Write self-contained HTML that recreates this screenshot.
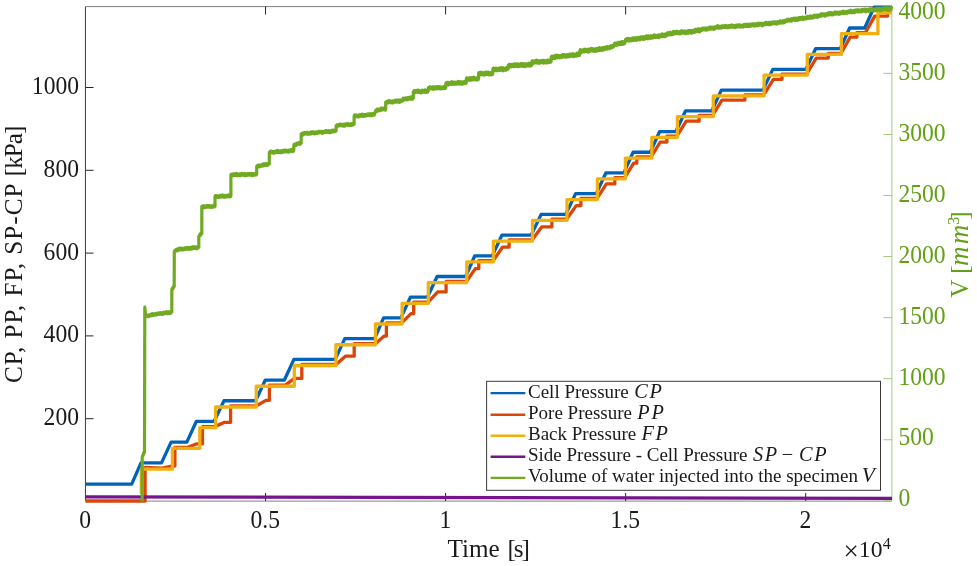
<!DOCTYPE html>
<html lang="en">
<head>
<meta charset="utf-8">
<title>Pressure and injected volume versus time</title>
<style>
html,body{margin:0;padding:0;background:#ffffff;}
body{width:977px;height:566px;overflow:hidden;}
svg{display:block;}
</style>
</head>
<body>
<svg width="977" height="566" viewBox="0 0 977 566">
<rect x="0" y="0" width="977" height="566" fill="#ffffff"/>
<defs><clipPath id="cp"><rect x="84.50" y="4.50" width="809.50" height="498.50"/></clipPath></defs>
<g stroke="#262626" stroke-width="1" fill="none" shape-rendering="auto">
<path d="M85.45,6.50 L85.45,501.00" stroke="#3c3c3c"/>
<path d="M85.50,6.60 L892.00,6.60" stroke="#808080"/>
<path d="M85.50,501.10 L892.00,501.10" stroke="#808080"/>
<path d="M265.55,501.00 L265.55,493.00"/>
<path d="M265.55,6.50 L265.55,14.50"/>
<path d="M445.60,501.00 L445.60,493.00"/>
<path d="M445.60,6.50 L445.60,14.50"/>
<path d="M625.65,501.00 L625.65,493.00"/>
<path d="M625.65,6.50 L625.65,14.50"/>
<path d="M805.70,501.00 L805.70,493.00"/>
<path d="M805.70,6.50 L805.70,14.50"/>
<path d="M85.50,418.70 L93.50,418.70"/>
<path d="M85.50,335.90 L93.50,335.90"/>
<path d="M85.50,253.10 L93.50,253.10"/>
<path d="M85.50,170.30 L93.50,170.30"/>
<path d="M85.50,87.50 L93.50,87.50"/>
</g>
<g stroke="#a3cb78" stroke-width="1" fill="none">
<path d="M891.90,6.50 L891.90,501.00"/>
<path d="M892.00,500.80 L883.40,500.80"/>
<path d="M892.00,439.74 L883.40,439.74"/>
<path d="M892.00,378.68 L883.40,378.68"/>
<path d="M892.00,317.62 L883.40,317.62"/>
<path d="M892.00,256.56 L883.40,256.56"/>
<path d="M892.00,195.50 L883.40,195.50"/>
<path d="M892.00,134.44 L883.40,134.44"/>
<path d="M892.00,73.38 L883.40,73.38"/>
<path d="M892.00,12.32 L883.40,12.32"/>
</g>
<g clip-path="url(#cp)" fill="none" stroke-width="3.3" stroke-linejoin="round" stroke-linecap="butt">
<path d="M85.50,484.20 L131.70,484.20 L141.00,462.89 L161.50,462.89 L171.10,442.18 L186.80,442.18 L196.30,421.47 L214.00,421.47 L224.00,400.76 L255.60,400.76 L265.30,380.05 L284.40,380.05 L293.90,359.34 L335.20,359.34 L344.80,338.63 L374.60,338.63 L383.60,317.92 L400.90,317.92 L410.40,297.21 L427.40,297.21 L437.10,276.50 L465.60,276.50 L474.80,255.79 L492.30,255.79 L501.90,235.08 L531.30,235.08 L541.10,214.37 L565.80,214.37 L575.60,193.66 L596.30,193.66 L605.80,172.95 L623.90,172.95 L633.10,152.24 L650.30,152.24 L659.60,131.53 L675.90,131.53 L685.60,110.82 L711.80,110.82 L721.30,90.11 L762.90,90.11 L772.80,69.40 L805.80,69.40 L815.60,48.69 L840.30,48.69 L849.60,27.98 L864.70,27.98 L874.10,7.27 L892.00,7.27" stroke="#0062B8"/>
<path d="M85.50,501.00 L145.10,501.00 L145.10,467.50 L162.30,468.10 L171.70,466.00 L174.90,466.00 L174.90,447.36 L187.60,447.36 L196.90,443.80 L202.50,443.80 L202.50,426.62 L214.80,426.62 L224.60,422.30 L230.60,422.30 L230.60,405.88 L256.40,405.88 L265.90,400.30 L269.40,400.30 L269.40,385.14 L285.20,385.14 L294.50,378.40 L301.80,378.40 L301.80,364.40 L336.00,364.40 L345.40,356.20 L354.20,356.20 L354.20,343.66 L375.40,343.66 L384.20,336.10 L386.40,336.10 L386.40,322.92 L401.70,322.92 L411.00,313.60 L413.70,313.60 L413.70,302.18 L428.20,302.18 L437.70,291.90 L446.10,291.90 L446.10,281.44 L466.40,281.44 L475.40,268.60 L478.80,268.60 L478.80,260.70 L493.10,260.70 L502.50,247.20 L509.10,247.20 L509.10,239.96 L532.10,239.96 L541.70,226.90 L551.90,226.90 L551.90,219.22 L566.60,219.22 L576.20,205.60 L580.90,205.60 L580.90,198.48 L597.10,198.48 L606.40,183.90 L614.80,183.90 L614.80,177.74 L624.70,177.74 L633.70,163.20 L636.80,163.20 L636.80,157.00 L651.10,157.00 L660.20,142.10 L666.90,142.10 L666.90,136.26 L676.70,136.26 L686.20,121.20 L699.10,121.20 L699.10,115.52 L712.60,115.52 L721.90,100.10 L744.90,100.10 L744.90,94.78 L763.70,94.78 L773.40,79.30 L782.00,79.30 L782.00,74.04 L806.60,74.04 L816.20,58.10 L828.30,58.10 L828.30,53.30 L841.10,53.30 L850.20,37.10 L856.90,37.10 L856.90,32.56 L865.50,32.56 L874.70,16.10 L887.60,16.10 L887.60,11.82 L892.00,11.82" stroke="#DC4508"/>
<path d="M141.30,494.00 L141.30,469.20 L172.40,469.20 L172.40,448.46 L199.80,448.46 L199.80,427.72 L215.60,427.72 L215.60,406.98 L256.30,406.98 L256.30,386.24 L294.30,386.24 L294.30,365.50 L335.90,365.50 L335.90,344.76 L375.50,344.76 L375.50,324.02 L402.10,324.02 L402.10,303.28 L428.30,303.28 L428.30,282.54 L466.80,282.54 L466.80,261.80 L493.40,261.80 L493.40,241.06 L532.50,241.06 L532.50,220.32 L567.00,220.32 L567.00,199.58 L597.40,199.58 L597.40,178.84 L625.40,178.84 L625.40,158.10 L651.80,158.10 L651.80,137.36 L677.40,137.36 L677.40,116.62 L713.30,116.62 L713.30,95.88 L764.10,95.88 L764.10,75.14 L807.30,75.14 L807.30,54.40 L841.40,54.40 L841.40,33.66 L877.90,33.66 L877.90,12.92 L892.00,12.92" stroke="#F0B010"/>
<path d="M85.50,496.80 L892.00,498.40" stroke="#75148C"/>
<path d="M142.20,501.50 L142.20,457.00 L142.66,455.67 L143.12,455.40 L143.58,452.98 L144.04,453.42 L144.50,452.00 L144.80,307.20 L145.70,315.80 L146.18,315.00 L146.66,316.17 L147.13,315.19 L147.61,316.64 L148.09,315.27 L148.57,316.68 L149.04,314.87 L149.52,315.99 L150.00,315.40 L150.45,314.73 L150.91,315.73 L151.36,314.15 L151.82,315.42 L152.27,313.64 L152.73,315.46 L153.18,313.92 L153.64,315.29 L154.09,313.88 L154.55,314.85 L155.00,314.20 L155.45,313.50 L155.91,315.18 L156.36,313.53 L156.82,314.68 L157.27,313.22 L157.73,314.23 L158.18,313.03 L158.64,314.44 L159.09,312.79 L159.55,314.25 L160.00,313.60 L160.45,312.74 L160.91,314.10 L161.36,313.19 L161.82,314.28 L162.27,312.87 L162.73,314.16 L163.18,312.40 L163.64,314.14 L164.09,312.59 L164.55,313.71 L165.00,313.00 L165.46,311.99 L165.92,313.30 L166.38,311.86 L166.85,313.64 L167.31,311.99 L167.77,313.59 L168.23,311.87 L168.69,313.16 L169.15,312.13 L169.62,313.54 L170.08,311.93 L170.54,313.25 L171.00,312.30 L171.80,312.10 L171.80,289.60 L172.28,288.40 L172.76,288.85 L173.24,286.83 L173.72,287.48 L174.20,286.40 L174.30,251.60 L174.85,250.47 L175.40,251.63 L175.95,249.65 L176.50,249.80 L177.00,250.45 L177.50,248.89 L178.00,250.60 L178.50,248.60 L179.00,249.81 L179.50,248.19 L180.00,249.20 L180.46,249.85 L180.92,248.24 L181.38,249.83 L181.83,248.26 L182.29,249.99 L182.75,248.42 L183.21,249.88 L183.67,248.50 L184.13,249.58 L184.59,248.00 L185.04,249.40 L185.50,247.81 L185.96,249.41 L186.42,247.86 L186.88,248.72 L187.34,247.52 L187.80,248.83 L188.25,247.80 L188.71,249.35 L189.17,247.62 L189.63,249.20 L190.09,247.67 L190.55,249.00 L191.00,247.79 L191.46,248.93 L191.92,247.19 L192.38,248.79 L192.84,246.86 L193.30,248.34 L193.76,246.86 L194.21,248.36 L194.67,247.05 L195.13,248.12 L195.59,246.81 L196.05,248.30 L196.51,247.04 L196.97,248.80 L197.42,247.02 L197.88,248.01 L198.34,246.80 L198.80,247.30 L198.80,236.20 L199.30,236.38 L199.80,234.43 L200.30,235.56 L200.80,233.11 L201.30,234.23 L201.80,233.40 L201.80,206.70 L202.26,206.21 L202.71,207.44 L203.17,205.90 L203.62,207.49 L204.08,205.87 L204.53,207.73 L204.99,206.05 L205.44,207.47 L205.90,206.09 L206.35,207.01 L206.81,205.55 L207.26,207.14 L207.72,205.71 L208.17,207.16 L208.63,205.67 L209.08,206.71 L209.54,205.79 L209.99,207.20 L210.45,206.22 L210.90,207.47 L211.36,205.80 L211.81,207.26 L212.27,205.89 L212.72,207.17 L213.18,205.74 L213.63,206.81 L214.09,205.48 L214.54,206.79 L215.00,206.30 L215.00,196.50 L215.45,195.62 L215.91,197.14 L216.36,195.74 L216.82,197.12 L217.27,195.91 L217.73,197.30 L218.18,195.92 L218.63,197.40 L219.09,195.84 L219.54,197.16 L220.00,195.47 L220.45,196.50 L220.91,195.54 L221.36,197.04 L221.81,195.39 L222.27,196.73 L222.72,194.97 L223.18,196.64 L223.63,195.68 L224.09,197.19 L224.54,195.72 L224.99,197.00 L225.45,195.51 L225.90,197.08 L226.36,195.45 L226.81,196.96 L227.27,195.36 L227.72,196.57 L228.17,195.15 L228.63,196.17 L229.08,194.79 L229.54,196.94 L229.99,195.11 L230.45,196.82 L230.90,195.90 L230.90,174.80 L231.35,174.26 L231.81,175.60 L232.26,174.49 L232.71,175.91 L233.16,174.18 L233.62,175.40 L234.07,173.82 L234.52,175.20 L234.97,174.16 L235.43,175.29 L235.88,173.65 L236.33,175.01 L236.78,173.48 L237.24,175.78 L237.69,173.94 L238.14,175.55 L238.59,174.27 L239.05,175.35 L239.50,174.25 L239.95,175.42 L240.41,173.88 L240.86,175.73 L241.31,173.68 L241.76,175.05 L242.22,173.46 L242.67,174.88 L243.12,173.99 L243.57,175.37 L244.03,173.53 L244.48,175.29 L244.93,173.58 L245.38,175.54 L245.84,174.35 L246.29,175.45 L246.74,174.08 L247.19,175.31 L247.65,173.56 L248.10,175.22 L248.55,173.51 L249.01,175.22 L249.46,173.59 L249.91,174.66 L250.36,173.53 L250.82,174.79 L251.27,173.64 L251.72,175.69 L252.17,173.85 L252.63,175.27 L253.08,173.62 L253.53,175.26 L253.98,174.15 L254.44,175.20 L254.89,173.61 L255.34,174.81 L255.79,173.08 L256.25,174.91 L256.70,174.30 L256.70,166.30 L257.15,165.60 L257.60,166.62 L258.05,165.17 L258.50,166.73 L258.95,165.13 L259.40,166.88 L259.85,165.26 L260.30,166.54 L260.75,165.14 L261.20,166.09 L261.65,164.72 L262.10,165.91 L262.55,164.48 L263.00,166.05 L263.45,163.90 L263.90,165.18 L264.35,163.88 L264.80,165.48 L265.25,164.30 L265.70,165.50 L266.15,163.70 L266.60,165.39 L267.05,163.74 L267.50,165.20 L267.95,163.75 L268.40,164.71 L268.85,163.47 L269.30,163.90 L269.30,152.40 L269.75,153.00 L270.21,151.48 L270.66,153.05 L271.11,151.18 L271.57,152.67 L272.02,151.50 L272.48,152.77 L272.93,151.59 L273.38,153.19 L273.84,151.66 L274.29,153.18 L274.74,151.32 L275.20,152.53 L275.65,151.27 L276.11,152.60 L276.56,151.19 L277.01,152.30 L277.47,150.29 L277.92,152.25 L278.37,150.83 L278.83,152.47 L279.28,151.03 L279.74,152.19 L280.19,151.02 L280.64,152.50 L281.10,150.94 L281.55,152.71 L282.00,150.75 L282.46,152.31 L282.91,150.51 L283.36,151.55 L283.82,150.40 L284.27,152.01 L284.73,150.24 L285.18,151.68 L285.63,150.05 L286.09,151.65 L286.54,150.70 L286.99,151.93 L287.45,150.76 L287.90,151.81 L288.36,150.13 L288.81,152.07 L289.26,150.28 L289.72,151.69 L290.17,150.04 L290.62,151.09 L291.08,149.75 L291.53,151.09 L291.99,149.65 L292.44,151.58 L292.89,149.87 L293.35,151.34 L293.80,150.50 L293.80,144.90 L294.26,144.28 L294.73,145.59 L295.19,144.27 L295.65,145.52 L296.11,143.64 L296.57,144.96 L297.04,143.19 L297.50,144.44 L297.96,143.21 L298.43,144.19 L298.89,142.69 L299.35,143.91 L299.81,142.51 L300.27,144.28 L300.74,142.76 L301.20,143.10 L301.20,133.80 L301.65,134.62 L302.11,133.33 L302.56,134.51 L303.01,132.95 L303.47,134.91 L303.92,132.93 L304.37,134.01 L304.83,132.50 L305.28,133.81 L305.73,132.81 L306.19,133.95 L306.64,132.50 L307.09,134.15 L307.55,132.32 L308.00,134.15 L308.45,132.88 L308.91,134.16 L309.36,132.85 L309.81,134.01 L310.26,132.41 L310.72,133.59 L311.17,131.94 L311.62,133.76 L312.08,132.25 L312.53,133.29 L312.98,131.78 L313.44,133.24 L313.89,132.22 L314.34,133.94 L314.80,132.15 L315.25,133.66 L315.70,132.04 L316.16,133.43 L316.61,132.24 L317.06,133.41 L317.52,131.92 L317.97,133.11 L318.42,131.31 L318.88,132.79 L319.33,131.42 L319.78,132.79 L320.24,131.78 L320.69,132.66 L321.14,131.32 L321.60,132.85 L322.05,131.47 L322.50,133.34 L322.96,131.62 L323.41,132.69 L323.86,131.43 L324.32,132.48 L324.77,131.34 L325.22,132.49 L325.68,130.72 L326.13,132.44 L326.58,130.76 L327.04,132.07 L327.49,130.80 L327.94,132.24 L328.39,131.14 L328.85,132.52 L329.30,130.71 L329.75,132.52 L330.21,131.00 L330.66,132.55 L331.11,131.00 L331.57,131.92 L332.02,130.43 L332.47,131.93 L332.93,130.22 L333.38,131.98 L333.83,130.20 L334.29,131.62 L334.74,130.45 L335.19,131.51 L335.65,130.57 L336.10,131.00 L336.10,125.50 L336.55,126.67 L337.00,124.79 L337.45,126.23 L337.90,124.86 L338.35,126.12 L338.80,124.63 L339.25,125.87 L339.70,124.43 L340.15,125.64 L340.60,123.95 L341.05,125.68 L341.50,124.47 L341.95,125.90 L342.40,124.60 L342.85,125.64 L343.30,124.20 L343.75,126.08 L344.20,124.56 L344.65,126.15 L345.10,124.16 L345.55,125.34 L346.00,124.15 L346.45,125.15 L346.90,123.85 L347.35,125.30 L347.80,123.74 L348.25,125.29 L348.70,123.68 L349.15,125.09 L349.60,124.24 L350.05,125.49 L350.50,124.22 L350.95,125.13 L351.40,123.61 L351.85,125.32 L352.30,123.74 L352.75,125.09 L353.20,123.39 L353.65,124.54 L354.10,124.20 L354.10,116.20 L354.55,115.02 L355.01,117.06 L355.46,115.31 L355.91,116.80 L356.37,114.99 L356.82,116.53 L357.27,115.54 L357.73,116.90 L358.18,115.51 L358.63,116.89 L359.09,114.80 L359.54,116.54 L359.99,114.63 L360.45,116.14 L360.90,114.95 L361.35,116.07 L361.81,114.49 L362.26,115.98 L362.71,114.18 L363.17,116.52 L363.62,114.87 L364.07,116.30 L364.53,114.63 L364.98,115.92 L365.43,114.72 L365.89,116.07 L366.34,114.40 L366.79,115.80 L367.25,114.06 L367.70,115.47 L368.15,113.94 L368.61,115.24 L369.06,113.98 L369.51,115.69 L369.97,113.80 L370.42,115.34 L370.87,113.70 L371.33,115.71 L371.78,114.42 L372.23,115.48 L372.69,113.73 L373.14,114.99 L373.59,113.37 L374.05,115.23 L374.50,114.30 L374.98,112.53 L375.45,112.49 L375.92,110.01 L376.40,110.10 L376.86,110.81 L377.33,109.07 L377.79,111.21 L378.26,109.20 L378.72,110.64 L379.19,109.18 L379.65,110.52 L380.12,109.05 L380.58,110.51 L381.05,108.23 L381.51,109.77 L381.98,108.25 L382.44,109.88 L382.91,108.51 L383.38,109.59 L383.84,108.03 L384.31,109.63 L384.77,108.37 L385.24,110.17 L385.70,108.80 L385.70,102.30 L386.16,101.78 L386.62,102.94 L387.09,101.32 L387.55,102.79 L388.01,101.31 L388.47,102.98 L388.93,100.71 L389.39,102.23 L389.86,100.73 L390.32,102.45 L390.78,101.19 L391.24,102.71 L391.70,101.04 L392.16,102.77 L392.63,100.82 L393.09,102.91 L393.55,101.02 L394.01,102.28 L394.47,100.88 L394.94,102.14 L395.40,100.25 L395.86,102.05 L396.32,100.32 L396.78,102.13 L397.24,100.14 L397.71,101.47 L398.17,100.23 L398.63,102.10 L399.09,100.49 L399.55,102.37 L400.01,100.09 L400.48,101.91 L400.94,100.19 L401.40,100.80 L401.88,101.18 L402.35,99.56 L402.82,100.58 L403.30,98.22 L403.77,100.03 L404.25,98.39 L404.72,99.80 L405.20,98.60 L405.65,98.06 L406.10,99.61 L406.55,97.93 L407.00,99.91 L407.45,97.78 L407.90,99.52 L408.35,97.44 L408.80,98.87 L409.25,97.43 L409.70,99.15 L410.15,97.49 L410.60,99.10 L411.05,96.78 L411.50,99.18 L411.95,97.64 L412.40,99.24 L412.85,97.90 L413.30,98.30 L413.30,91.60 L413.76,92.39 L414.22,90.69 L414.67,92.89 L415.13,90.85 L415.59,92.53 L416.05,90.58 L416.50,91.74 L416.96,90.35 L417.42,91.96 L417.88,90.22 L418.33,92.47 L418.79,90.24 L419.25,92.36 L419.71,90.51 L420.16,92.46 L420.62,90.96 L421.08,92.92 L421.54,90.72 L421.99,92.32 L422.45,90.08 L422.91,92.17 L423.37,90.63 L423.82,92.10 L424.28,90.35 L424.74,91.70 L425.20,89.92 L425.65,92.26 L426.11,90.41 L426.57,92.28 L427.03,90.70 L427.48,92.22 L427.94,90.47 L428.40,90.80 L428.40,87.70 L428.86,89.31 L429.32,87.01 L429.77,88.81 L430.23,86.73 L430.69,88.50 L431.15,87.15 L431.61,88.49 L432.06,87.04 L432.52,89.10 L432.98,86.88 L433.44,88.91 L433.89,86.91 L434.35,89.15 L434.81,87.63 L435.27,88.87 L435.73,87.06 L436.18,88.55 L436.64,86.72 L437.10,88.84 L437.56,86.93 L438.02,88.26 L438.47,86.58 L438.93,88.42 L439.39,86.87 L439.85,88.93 L440.31,86.81 L440.76,88.99 L441.22,87.01 L441.68,88.76 L442.14,87.28 L442.59,88.61 L443.05,86.86 L443.51,88.65 L443.97,86.35 L444.43,88.41 L444.88,86.19 L445.34,88.38 L445.80,87.30 L445.80,83.20 L446.26,82.69 L446.71,84.27 L447.17,82.49 L447.62,84.64 L448.08,82.39 L448.53,85.02 L448.99,82.74 L449.44,84.04 L449.90,82.56 L450.36,84.24 L450.81,82.30 L451.27,84.41 L451.72,81.74 L452.18,83.63 L452.63,82.04 L453.09,84.12 L453.54,82.40 L454.00,84.16 L454.46,82.00 L454.91,84.30 L455.37,82.30 L455.82,84.21 L456.28,82.30 L456.73,84.12 L457.19,82.24 L457.64,83.74 L458.10,81.49 L458.56,83.85 L459.01,81.71 L459.47,84.02 L459.92,81.85 L460.38,83.38 L460.83,81.97 L461.29,84.04 L461.74,82.14 L462.20,84.09 L462.66,81.83 L463.11,83.84 L463.57,81.82 L464.02,83.65 L464.48,81.94 L464.93,83.26 L465.39,81.47 L465.84,83.46 L466.30,82.20 L466.30,78.70 L466.76,77.88 L467.21,79.95 L467.67,78.08 L468.12,79.67 L468.58,78.32 L469.03,80.13 L469.49,77.83 L469.94,80.43 L470.40,77.91 L470.86,80.13 L471.31,77.96 L471.77,79.27 L472.22,77.60 L472.68,79.87 L473.13,77.77 L473.59,79.56 L474.04,77.20 L474.50,79.72 L474.96,78.08 L475.41,79.85 L475.87,78.08 L476.32,79.93 L476.78,77.85 L477.23,79.89 L477.69,77.68 L478.14,79.75 L478.60,78.30 L478.60,73.40 L479.06,72.55 L479.52,74.01 L479.98,72.36 L480.45,74.85 L480.91,72.44 L481.37,74.68 L481.83,72.30 L482.29,74.61 L482.75,72.92 L483.21,74.62 L483.67,73.01 L484.14,75.12 L484.60,72.65 L485.06,74.95 L485.52,72.18 L485.98,74.18 L486.44,72.74 L486.90,74.32 L487.36,72.20 L487.83,74.32 L488.29,72.16 L488.75,74.83 L489.21,72.81 L489.67,74.78 L490.13,72.73 L490.59,74.22 L491.05,72.83 L491.52,74.77 L491.98,72.03 L492.44,74.66 L492.90,73.00 L492.90,69.30 L493.35,68.05 L493.81,70.29 L494.26,68.58 L494.71,70.48 L495.16,68.39 L495.62,70.74 L496.07,68.13 L496.52,70.64 L496.98,68.65 L497.43,70.52 L497.88,68.85 L498.34,70.49 L498.79,68.37 L499.24,70.17 L499.69,67.96 L500.15,70.41 L500.60,68.05 L501.05,69.70 L501.51,67.68 L501.96,69.73 L502.41,68.24 L502.86,70.82 L503.32,67.82 L503.77,70.29 L504.22,68.28 L504.68,70.24 L505.13,68.48 L505.58,70.16 L506.04,68.06 L506.49,70.06 L506.94,67.28 L507.39,69.57 L507.85,67.48 L508.30,68.50 L508.30,65.20 L508.75,66.25 L509.20,64.33 L509.66,66.33 L510.11,64.58 L510.56,66.72 L511.01,64.25 L511.46,66.84 L511.92,64.71 L512.37,66.44 L512.82,64.40 L513.27,66.25 L513.72,64.15 L514.17,66.70 L514.63,63.84 L515.08,66.02 L515.53,64.07 L515.98,66.12 L516.43,64.70 L516.89,66.36 L517.34,63.95 L517.79,66.72 L518.24,64.02 L518.69,66.41 L519.15,64.46 L519.60,66.26 L520.05,64.30 L520.50,66.09 L520.95,63.66 L521.41,65.93 L521.86,63.79 L522.31,66.30 L522.76,63.65 L523.21,65.50 L523.67,63.93 L524.12,66.29 L524.57,64.21 L525.02,66.58 L525.47,63.74 L525.92,66.23 L526.38,64.09 L526.83,65.87 L527.28,63.90 L527.73,65.60 L528.18,63.82 L528.64,65.91 L529.09,63.23 L529.54,65.57 L529.99,63.92 L530.44,66.01 L530.90,64.07 L531.35,65.69 L531.80,64.40 L531.80,61.70 L532.25,60.82 L532.70,63.75 L533.15,61.23 L533.60,63.19 L534.06,61.02 L534.51,62.46 L534.96,60.77 L535.41,62.92 L535.86,60.85 L536.31,62.85 L536.76,60.16 L537.21,62.95 L537.67,60.93 L538.12,63.09 L538.57,61.12 L539.02,62.88 L539.47,60.82 L539.92,63.13 L540.37,60.51 L540.82,62.94 L541.27,60.76 L541.73,62.57 L542.18,60.65 L542.63,62.06 L543.08,60.39 L543.53,63.11 L543.98,60.50 L544.43,62.76 L544.88,60.46 L545.33,62.73 L545.79,61.08 L546.24,62.82 L546.69,60.66 L547.14,62.99 L547.59,60.16 L548.04,62.57 L548.49,60.25 L548.94,62.32 L549.40,60.44 L549.85,62.49 L550.30,60.36 L550.75,62.15 L551.20,61.10 L551.20,57.00 L551.66,56.27 L552.11,58.41 L552.57,56.37 L553.02,58.36 L553.48,56.25 L553.93,58.06 L554.39,55.82 L554.84,58.51 L555.30,55.90 L555.76,57.86 L556.21,55.18 L556.67,57.21 L557.12,55.83 L557.58,57.78 L558.03,55.49 L558.49,57.62 L558.94,55.45 L559.40,57.80 L559.86,55.89 L560.31,57.59 L560.77,55.69 L561.22,57.39 L561.68,55.36 L562.13,57.27 L562.59,54.66 L563.04,57.16 L563.50,55.11 L563.96,56.56 L564.41,54.57 L564.87,56.65 L565.32,55.10 L565.78,57.28 L566.23,54.78 L566.69,56.99 L567.14,54.73 L567.60,56.75 L568.06,55.23 L568.51,56.75 L568.97,54.44 L569.42,56.51 L569.88,54.07 L570.33,56.53 L570.79,54.10 L571.24,56.11 L571.70,54.47 L572.16,56.08 L572.61,53.77 L573.07,56.49 L573.52,54.17 L573.98,56.66 L574.43,54.20 L574.89,55.79 L575.34,54.11 L575.80,55.98 L576.26,53.94 L576.71,56.08 L577.17,53.18 L577.62,55.71 L578.08,53.30 L578.53,55.24 L578.99,53.74 L579.44,55.44 L579.90,54.10 L579.90,50.70 L580.36,49.70 L580.81,52.52 L581.27,50.19 L581.73,52.44 L582.18,50.17 L582.64,51.70 L583.10,49.94 L583.55,51.56 L584.01,49.26 L584.47,51.85 L584.92,49.43 L585.38,51.70 L585.84,49.41 L586.30,51.28 L586.75,49.61 L587.21,51.62 L587.67,49.61 L588.12,52.24 L588.58,49.12 L589.04,51.23 L589.49,49.31 L589.95,51.30 L590.41,49.22 L590.86,50.93 L591.32,48.47 L591.78,50.94 L592.23,48.50 L592.69,50.93 L593.15,49.01 L593.60,51.07 L594.06,49.14 L594.52,50.84 L594.98,48.90 L595.43,51.31 L595.89,48.94 L596.35,51.13 L596.80,48.71 L597.26,50.12 L597.72,48.48 L598.17,50.74 L598.63,48.56 L599.09,50.50 L599.54,47.69 L600.00,49.10 L600.46,50.06 L600.92,48.49 L601.38,50.36 L601.84,48.38 L602.30,50.11 L602.76,47.50 L603.22,50.12 L603.68,47.80 L604.14,49.68 L604.60,47.32 L605.06,48.87 L605.52,47.04 L605.98,49.09 L606.44,46.89 L606.90,49.17 L607.36,46.68 L607.82,48.78 L608.28,46.78 L608.74,48.60 L609.20,46.78 L609.66,48.75 L610.12,46.31 L610.58,48.18 L611.04,45.72 L611.50,47.77 L611.96,46.11 L612.42,47.58 L612.88,45.38 L613.34,47.03 L613.80,46.10 L614.30,43.90 L614.76,43.26 L615.22,45.21 L615.68,43.19 L616.14,45.13 L616.60,43.27 L617.07,45.06 L617.53,42.68 L617.99,45.02 L618.45,42.31 L618.91,44.33 L619.37,42.23 L619.83,44.22 L620.29,42.06 L620.75,44.47 L621.21,41.92 L621.67,44.30 L622.13,41.70 L622.60,44.42 L623.06,42.36 L623.52,43.86 L623.98,41.63 L624.44,43.78 L624.90,42.60 L625.40,40.20 L625.86,39.07 L626.32,40.74 L626.77,38.69 L627.23,40.48 L627.69,38.73 L628.15,40.84 L628.60,38.48 L629.06,41.11 L629.52,38.76 L629.98,40.94 L630.43,38.82 L630.89,40.49 L631.35,38.85 L631.81,40.60 L632.26,38.07 L632.72,39.96 L633.18,37.86 L633.64,40.37 L634.09,38.15 L634.55,39.81 L635.01,37.90 L635.47,40.08 L635.92,38.01 L636.38,40.42 L636.84,37.74 L637.30,39.94 L637.75,37.84 L638.21,39.55 L638.67,37.49 L639.13,39.56 L639.58,37.35 L640.04,39.85 L640.50,38.30 L640.96,36.87 L641.42,38.96 L641.89,37.12 L642.35,38.94 L642.81,36.90 L643.27,39.43 L643.74,36.83 L644.20,39.27 L644.66,36.94 L645.12,38.86 L645.59,36.94 L646.05,38.20 L646.51,35.90 L646.98,38.31 L647.44,36.06 L647.90,38.83 L648.36,35.98 L648.83,37.84 L649.29,36.26 L649.75,38.12 L650.21,36.56 L650.68,38.37 L651.14,35.73 L651.60,36.90 L652.05,37.78 L652.50,35.93 L652.95,37.96 L653.40,35.93 L653.85,37.27 L654.30,34.82 L654.75,37.29 L655.20,35.35 L655.65,37.44 L656.10,35.53 L656.55,37.19 L657.00,35.61 L657.45,37.42 L657.90,35.06 L658.35,37.50 L658.80,35.13 L659.25,37.38 L659.70,34.96 L660.15,36.50 L660.60,34.81 L661.05,36.64 L661.50,34.70 L661.95,36.69 L662.40,33.76 L662.85,36.69 L663.30,34.65 L663.75,36.49 L664.20,34.91 L664.65,36.59 L665.10,35.30 L665.56,33.78 L666.02,36.27 L666.49,33.71 L666.95,35.53 L667.41,32.93 L667.88,34.58 L668.34,32.67 L668.80,33.60 L669.27,34.99 L669.73,32.56 L670.20,34.63 L670.67,32.22 L671.13,34.12 L671.60,32.86 L672.07,34.77 L672.53,32.51 L673.00,34.35 L673.47,31.44 L673.93,33.94 L674.40,31.97 L674.87,33.60 L675.33,31.66 L675.80,33.52 L676.27,31.25 L676.73,33.59 L677.20,31.32 L677.67,33.75 L678.13,31.96 L678.60,32.40 L679.06,33.48 L679.51,31.57 L679.97,33.84 L680.42,31.39 L680.88,33.67 L681.33,30.90 L681.79,33.04 L682.24,30.93 L682.70,32.76 L683.16,31.27 L683.61,33.24 L684.07,31.04 L684.52,33.08 L684.98,30.98 L685.43,33.57 L685.89,31.70 L686.34,33.39 L686.80,31.02 L687.26,32.94 L687.71,30.77 L688.17,33.33 L688.62,30.56 L689.08,32.74 L689.53,30.82 L689.99,32.62 L690.44,30.66 L690.90,31.90 L691.36,33.20 L691.81,30.38 L692.27,32.65 L692.72,30.64 L693.18,32.52 L693.63,30.67 L694.09,32.38 L694.54,29.95 L695.00,32.09 L695.46,29.27 L695.91,31.60 L696.37,29.40 L696.82,31.56 L697.28,29.66 L697.73,31.30 L698.19,28.94 L698.64,31.50 L699.10,29.14 L699.56,31.94 L700.01,29.27 L700.47,30.70 L700.92,28.96 L701.38,30.47 L701.83,28.74 L702.29,30.26 L702.74,28.13 L703.20,29.20 L703.67,29.59 L704.13,28.11 L704.60,29.91 L705.07,28.55 L705.53,29.74 L706.00,28.01 L706.47,30.09 L706.93,28.07 L707.40,29.84 L707.87,28.22 L708.33,29.19 L708.80,27.61 L709.27,29.19 L709.73,27.12 L710.20,29.24 L710.67,27.26 L711.13,29.06 L711.60,27.32 L712.07,28.74 L712.53,27.18 L713.00,28.00 L713.47,29.32 L713.93,27.13 L714.40,29.06 L714.87,26.85 L715.33,28.59 L715.80,26.95 L716.27,28.08 L716.73,26.49 L717.20,27.88 L717.67,25.70 L718.13,28.02 L718.60,26.22 L719.07,28.10 L719.53,26.37 L720.00,26.90 L720.45,27.94 L720.90,26.27 L721.35,28.01 L721.80,25.96 L722.26,27.71 L722.71,25.94 L723.16,27.12 L723.61,25.87 L724.06,27.44 L724.51,25.74 L724.96,27.55 L725.41,25.28 L725.86,27.29 L726.31,25.90 L726.77,27.65 L727.22,25.98 L727.67,27.53 L728.12,25.84 L728.57,27.70 L729.02,25.60 L729.47,27.51 L729.92,25.66 L730.37,27.10 L730.83,25.38 L731.28,26.67 L731.73,24.94 L732.18,27.20 L732.63,25.31 L733.08,27.15 L733.53,25.46 L733.98,26.90 L734.43,25.78 L734.89,27.61 L735.34,25.73 L735.79,27.22 L736.24,25.03 L736.69,27.16 L737.14,25.23 L737.59,26.63 L738.04,25.20 L738.49,26.73 L738.94,24.95 L739.40,26.84 L739.85,24.83 L740.30,27.02 L740.75,25.39 L741.20,25.90 L741.66,26.79 L742.12,25.36 L742.58,26.82 L743.03,25.03 L743.49,27.03 L743.95,24.64 L744.41,26.37 L744.87,24.34 L745.33,25.90 L745.79,24.78 L746.24,26.41 L746.70,24.26 L747.16,26.13 L747.62,24.19 L748.08,26.39 L748.54,25.07 L749.00,26.24 L749.45,24.47 L749.91,26.07 L750.37,24.24 L750.83,26.29 L751.29,24.04 L751.75,25.78 L752.20,24.05 L752.66,25.51 L753.12,23.82 L753.58,25.60 L754.04,24.07 L754.50,26.16 L754.96,24.14 L755.41,25.81 L755.87,23.92 L756.33,25.73 L756.79,24.40 L757.25,25.63 L757.71,23.32 L758.17,25.27 L758.62,23.35 L759.08,25.26 L759.54,23.40 L760.00,24.40 L760.46,24.89 L760.91,23.31 L761.37,25.08 L761.83,23.39 L762.29,25.81 L762.74,23.62 L763.20,24.87 L763.66,23.39 L764.12,24.73 L764.57,23.17 L765.03,24.66 L765.49,22.68 L765.95,24.48 L766.40,22.38 L766.86,24.26 L767.32,22.84 L767.78,24.49 L768.23,23.11 L768.69,24.61 L769.15,22.25 L769.61,24.59 L770.06,22.63 L770.52,24.57 L770.98,22.87 L771.44,23.83 L771.89,22.18 L772.35,23.75 L772.81,22.01 L773.27,23.80 L773.72,21.83 L774.18,23.63 L774.64,22.03 L775.10,23.58 L775.55,22.09 L776.01,23.93 L776.47,22.18 L776.93,24.07 L777.38,21.75 L777.84,23.40 L778.30,21.70 L778.76,23.32 L779.21,21.66 L779.67,23.05 L780.13,20.83 L780.59,22.92 L781.04,21.19 L781.50,22.20 L781.95,23.11 L782.40,21.31 L782.85,22.61 L783.30,20.69 L783.75,22.94 L784.20,20.79 L784.65,22.55 L785.10,20.25 L785.55,21.56 L786.00,20.12 L786.45,21.41 L786.90,19.52 L787.35,21.30 L787.80,19.02 L788.25,20.99 L788.70,20.10 L789.15,19.47 L789.61,21.05 L790.06,19.42 L790.51,20.80 L790.96,18.91 L791.42,21.17 L791.87,18.92 L792.32,20.65 L792.77,18.67 L793.23,20.10 L793.68,18.47 L794.13,19.93 L794.58,18.25 L795.04,20.33 L795.49,18.45 L795.94,20.25 L796.39,18.02 L796.85,19.78 L797.30,18.71 L797.75,20.25 L798.21,18.24 L798.66,19.95 L799.11,17.63 L799.56,19.68 L800.02,17.64 L800.47,19.16 L800.92,17.65 L801.37,19.20 L801.83,17.37 L802.28,19.18 L802.73,17.16 L803.18,19.50 L803.64,17.82 L804.09,19.31 L804.54,17.45 L804.99,18.68 L805.45,17.36 L805.90,17.90 L806.36,18.96 L806.82,16.90 L807.28,18.26 L807.75,16.41 L808.21,17.92 L808.67,16.68 L809.13,18.25 L809.59,16.32 L810.05,18.14 L810.51,15.92 L810.97,18.25 L811.44,16.77 L811.90,17.99 L812.36,16.14 L812.82,17.48 L813.28,15.78 L813.74,17.75 L814.20,15.27 L814.66,17.12 L815.13,15.35 L815.59,16.74 L816.05,15.27 L816.51,16.99 L816.97,15.21 L817.43,17.38 L817.89,15.04 L818.35,16.85 L818.82,15.02 L819.28,16.54 L819.74,15.19 L820.20,15.50 L820.65,16.22 L821.11,13.96 L821.56,15.87 L822.01,13.85 L822.46,15.72 L822.92,14.38 L823.37,15.52 L823.82,13.80 L824.27,15.59 L824.73,14.13 L825.18,16.24 L825.63,14.03 L826.08,15.26 L826.54,13.72 L826.99,15.11 L827.44,13.50 L827.89,15.10 L828.35,12.77 L828.80,14.00 L829.25,14.35 L829.71,12.66 L830.16,14.70 L830.61,13.35 L831.06,14.73 L831.52,12.66 L831.97,14.96 L832.42,12.94 L832.87,14.89 L833.33,12.87 L833.78,14.28 L834.23,12.91 L834.68,14.14 L835.14,11.99 L835.59,13.94 L836.04,12.27 L836.49,14.04 L836.95,12.18 L837.40,13.56 L837.85,12.25 L838.31,13.91 L838.76,12.36 L839.21,14.31 L839.66,12.06 L840.12,14.05 L840.57,12.01 L841.02,13.64 L841.47,11.90 L841.93,13.39 L842.38,11.48 L842.83,13.37 L843.28,11.13 L843.74,13.21 L844.19,11.51 L844.64,13.40 L845.09,11.71 L845.55,13.00 L846.00,12.20 L846.46,11.34 L846.92,13.34 L847.38,11.44 L847.85,12.97 L848.31,11.06 L848.77,12.19 L849.23,10.88 L849.69,12.51 L850.15,10.76 L850.61,12.51 L851.07,10.23 L851.54,12.45 L852.00,11.11 L852.46,12.70 L852.92,11.01 L853.38,12.39 L853.84,10.44 L854.30,12.72 L854.76,10.49 L855.23,12.17 L855.69,10.17 L856.15,11.55 L856.61,10.05 L857.07,11.58 L857.53,9.92 L857.99,11.99 L858.45,9.94 L858.92,11.98 L859.38,10.00 L859.84,11.58 L860.30,10.70 L860.76,10.09 L861.22,11.83 L861.68,9.55 L862.15,11.36 L862.61,9.33 L863.07,11.11 L863.53,9.73 L863.99,11.21 L864.45,9.34 L864.91,10.94 L865.37,9.06 L865.84,11.62 L866.30,9.84 L866.76,11.27 L867.22,9.57 L867.68,10.97 L868.14,9.46 L868.60,11.33 L869.06,9.03 L869.53,10.90 L869.99,8.83 L870.45,10.44 L870.91,9.02 L871.37,10.56 L871.83,8.88 L872.29,10.93 L872.75,8.86 L873.22,10.74 L873.68,8.98 L874.14,10.84 L874.60,9.70 L875.05,9.04 L875.51,10.64 L875.96,8.80 L876.41,10.63 L876.86,8.21 L877.32,10.36 L877.77,8.68 L878.22,9.85 L878.67,8.45 L879.13,9.90 L879.58,8.43 L880.03,10.78 L880.48,8.44 L880.94,10.34 L881.39,8.36 L881.84,10.28 L882.29,8.84 L882.75,10.18 L883.20,8.06 L883.65,9.98 L884.11,7.76 L884.56,9.69 L885.01,7.89 L885.46,9.58 L885.92,8.18 L886.37,9.54 L886.82,7.98 L887.27,9.74 L887.73,8.00 L888.18,10.49 L888.63,8.24 L889.08,9.50 L889.54,7.84 L889.99,9.59 L890.44,7.93 L890.89,9.55 L891.35,7.37 L891.80,8.60" stroke="#70AA22" stroke-width="3.2"/>
</g>
<g font-family="'Liberation Serif', 'DejaVu Serif', serif" fill="#1a1a1a">
<text transform="translate(79.0,425.25) scale(1,1.06)" font-size="23.6" text-anchor="end">200</text>
<text transform="translate(79.0,342.45) scale(1,1.06)" font-size="23.6" text-anchor="end">400</text>
<text transform="translate(79.0,259.65) scale(1,1.06)" font-size="23.6" text-anchor="end">600</text>
<text transform="translate(79.0,176.85) scale(1,1.06)" font-size="23.6" text-anchor="end">800</text>
<text transform="translate(79.0,94.05) scale(1,1.06)" font-size="23.6" text-anchor="end">1000</text>
<text transform="translate(85.20,528.0) scale(1,1.06)" font-size="23.6" text-anchor="middle">0</text>
<text transform="translate(265.25,528.0) scale(1,1.06)" font-size="23.6" text-anchor="middle">0.5</text>
<text transform="translate(445.30,528.0) scale(1,1.06)" font-size="23.6" text-anchor="middle">1</text>
<text transform="translate(625.35,528.0) scale(1,1.06)" font-size="23.6" text-anchor="middle">1.5</text>
<text transform="translate(805.40,528.0) scale(1,1.06)" font-size="23.6" text-anchor="middle">2</text>
<text transform="translate(898.4,506.35) scale(1,1.06)" font-size="23.6" fill="#62a016">0</text>
<text transform="translate(898.4,445.48) scale(1,1.06)" font-size="23.6" fill="#62a016">500</text>
<text transform="translate(898.4,384.61) scale(1,1.06)" font-size="23.6" fill="#62a016">1000</text>
<text transform="translate(898.4,323.74) scale(1,1.06)" font-size="23.6" fill="#62a016">1500</text>
<text transform="translate(898.4,262.87) scale(1,1.06)" font-size="23.6" fill="#62a016">2000</text>
<text transform="translate(898.4,202.00) scale(1,1.06)" font-size="23.6" fill="#62a016">2500</text>
<text transform="translate(898.4,141.13) scale(1,1.06)" font-size="23.6" fill="#62a016">3000</text>
<text transform="translate(898.4,80.26) scale(1,1.06)" font-size="23.6" fill="#62a016">3500</text>
<text transform="translate(898.4,19.39) scale(1,1.06)" font-size="23.6" fill="#62a016">4000</text>
<text id="xlab" x="447.4" y="556.6" font-size="25.2">Time <tspan dx="1.6" letter-spacing="-2.1">[s]</tspan></text>
<text id="xexp" x="843.4" y="556.9" font-size="23.6"><tspan font-size="27" dy="2.6">×</tspan><tspan dx="0.2" dy="-2.6">10</tspan><tspan font-size="16" dy="-8.2" dx="0.3">4</tspan></text>
<text id="ylab" transform="translate(21.7,383.0) rotate(-90)" font-size="25.2" letter-spacing="1.0">CP, PP, FP, SP-CP <tspan letter-spacing="-1.0">[kPa]</tspan></text>
<text id="yrlab" transform="translate(968.3,297.8) rotate(-90)" font-size="25.2" fill="#62a016">V [<tspan font-style="italic" font-size="27" letter-spacing="2.2" dx="-0.5">mm</tspan><tspan font-size="16" dy="-9.5" dx="-2.2">3</tspan><tspan dy="9.5" dx="-3.0">]</tspan></text>
</g>
<rect x="486.6" y="381.3" width="393.9" height="109.0" fill="#ffffff" stroke="#3a3a3a" stroke-width="1"/>
<g font-family="'Liberation Serif', 'DejaVu Serif', serif" fill="#1a1a1a" font-size="19.0">
<path d="M490.6,393.10 L525.3,393.10" stroke="#0062B8" stroke-width="2.4" fill="none"/>
<text id="leg0" x="528.0" y="397.70">Cell Pressure <tspan font-style="italic" font-size="20.3" dx="0.6 1.7">CP</tspan></text>
<path d="M490.6,414.70 L525.3,414.70" stroke="#DC4508" stroke-width="2.4" fill="none"/>
<text id="leg1" x="528.0" y="418.60">Pore Pressure <tspan font-style="italic" font-size="20.3" dx="0.6 1.7">PP</tspan></text>
<path d="M490.6,435.70 L525.3,435.70" stroke="#F0B010" stroke-width="2.4" fill="none"/>
<text id="leg2" x="528.0" y="439.60">Back Pressure <tspan font-style="italic" font-size="20.3" dx="0.6 1.7">FP</tspan></text>
<path d="M490.6,456.70 L525.3,456.70" stroke="#75148C" stroke-width="2.4" fill="none"/>
<text id="leg3" x="528.0" y="460.70">Side Pressure - Cell Pressure <tspan font-style="italic" font-size="20.3" dx="0.6 1.7 -0.8 -0.8 0 0 1.7">SP − CP</tspan></text>
<path d="M490.6,477.90 L525.3,477.90" stroke="#70AA22" stroke-width="2.4" fill="none"/>
<text id="leg4" x="528.0" y="481.50">Volume of water injected into the specimen <tspan font-style="italic" font-size="21.5" dx="-1">V</tspan></text>
</g>
</svg>
</body>
</html>
